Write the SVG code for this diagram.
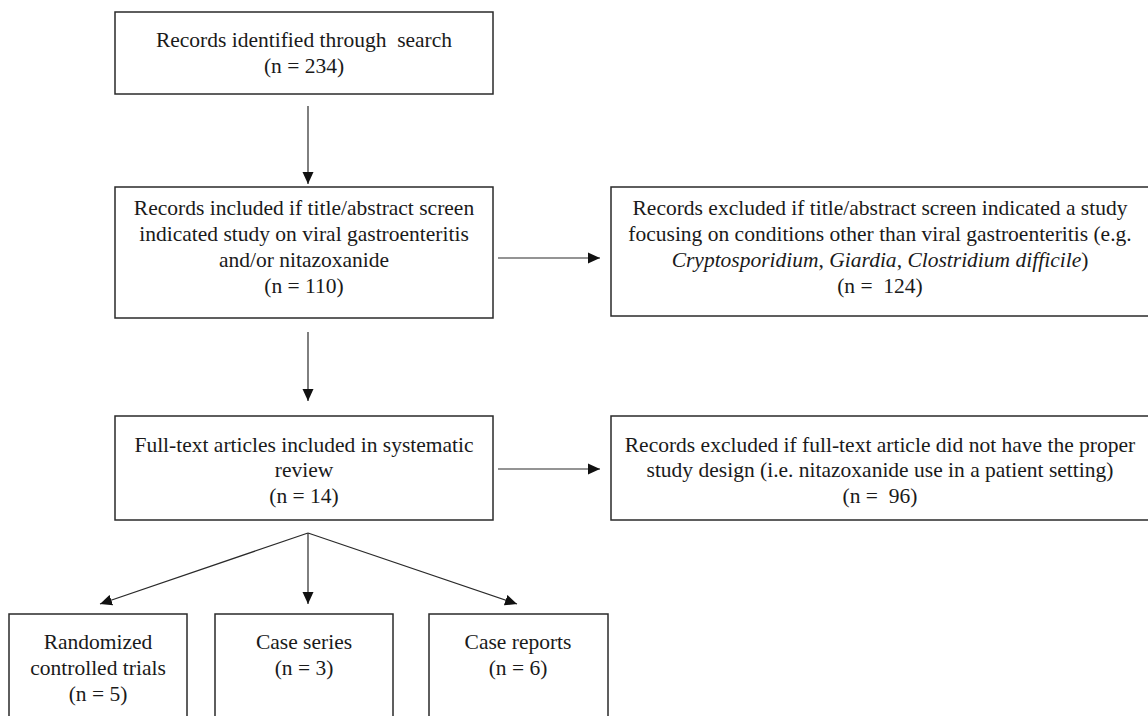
<svg xmlns="http://www.w3.org/2000/svg" width="1148" height="716" viewBox="0 0 1148 716">
<style>
.box{fill:#fff;stroke:#2a2a2a;stroke-width:1.5}
.t{font-family:'Liberation Serif','DejaVu Serif',serif;font-size:21.5px;fill:#1a1a1a;text-anchor:middle;white-space:pre}
.i{font-style:italic}
.c{fill:none;stroke:#2a2a2a;stroke-width:1.2}
</style>
<defs>
<marker id="ah" viewBox="0 0 12 12" refX="12" refY="6" markerUnits="userSpaceOnUse" markerWidth="12" markerHeight="12" orient="auto">
<path d="M0,0.5 L12,6 L0,11.5 Z" fill="#111"/>
</marker>
</defs>
<rect width="1148" height="716" fill="#fff"/>
<g id="connectors">
<line class="c" x1="308" y1="106" x2="308" y2="184" marker-end="url(#ah)"/>
<line class="c" x1="308" y1="332" x2="308" y2="401" marker-end="url(#ah)"/>
<line class="c" x1="498" y1="258" x2="600" y2="258" marker-end="url(#ah)"/>
<line class="c" x1="498" y1="469" x2="600" y2="469" marker-end="url(#ah)"/>
<line class="c" x1="308" y1="533" x2="100" y2="604" marker-end="url(#ah)"/>
<line class="c" x1="308" y1="533" x2="308" y2="604" marker-end="url(#ah)"/>
<line class="c" x1="308" y1="533" x2="517" y2="604" marker-end="url(#ah)"/>
</g>
<g id="n1">
<rect class="box" x="115" y="12" width="378" height="82"/>
<text class="t" x="304" y="47">Records identified through  search</text>
<text class="t" x="304" y="73">(n = 234)</text>
</g>
<g id="n2">
<rect class="box" x="115" y="187" width="378" height="131"/>
<text class="t" x="304" y="215">Records included if title/abstract screen</text>
<text class="t" x="304" y="241">indicated study on viral gastroenteritis</text>
<text class="t" x="304" y="267">and/or nitazoxanide</text>
<text class="t" x="304" y="293">(n = 110)</text>
</g>
<g id="n3">
<rect class="box" x="611" y="187" width="545" height="129"/>
<text class="t" x="880" y="215">Records excluded if title/abstract screen indicated a study</text>
<text class="t" x="880" y="241">focusing on conditions other than viral gastroenteritis (e.g.</text>
<text class="t" x="880" y="267"><tspan class="i">Cryptosporidium</tspan>, <tspan class="i">Giardia</tspan>, <tspan class="i">Clostridium difficile</tspan>)</text>
<text class="t" x="880" y="293">(n =  124)</text>
</g>
<g id="n4">
<rect class="box" x="115" y="416" width="378" height="104"/>
<text class="t" x="304" y="452">Full-text articles included in systematic</text>
<text class="t" x="304" y="477">review</text>
<text class="t" x="304" y="503">(n = 14)</text>
</g>
<g id="n5">
<rect class="box" x="611" y="416" width="545" height="104"/>
<text class="t" x="880" y="452">Records excluded if full-text article did not have the proper</text>
<text class="t" x="880" y="477">study design (i.e. nitazoxanide use in a patient setting)</text>
<text class="t" x="880" y="503">(n =  96)</text>
</g>
<g id="n6">
<rect class="box" x="9" y="614" width="178" height="120"/>
<text class="t" x="98" y="649">Randomized</text>
<text class="t" x="98" y="675">controlled trials</text>
<text class="t" x="98" y="701">(n = 5)</text>
</g>
<g id="n7">
<rect class="box" x="215" y="614" width="178" height="120"/>
<text class="t" x="304" y="649">Case series</text>
<text class="t" x="304" y="675">(n = 3)</text>
</g>
<g id="n8">
<rect class="box" x="429" y="614" width="179" height="120"/>
<text class="t" x="518" y="649">Case reports</text>
<text class="t" x="518" y="675">(n = 6)</text>
</g>
</svg>
